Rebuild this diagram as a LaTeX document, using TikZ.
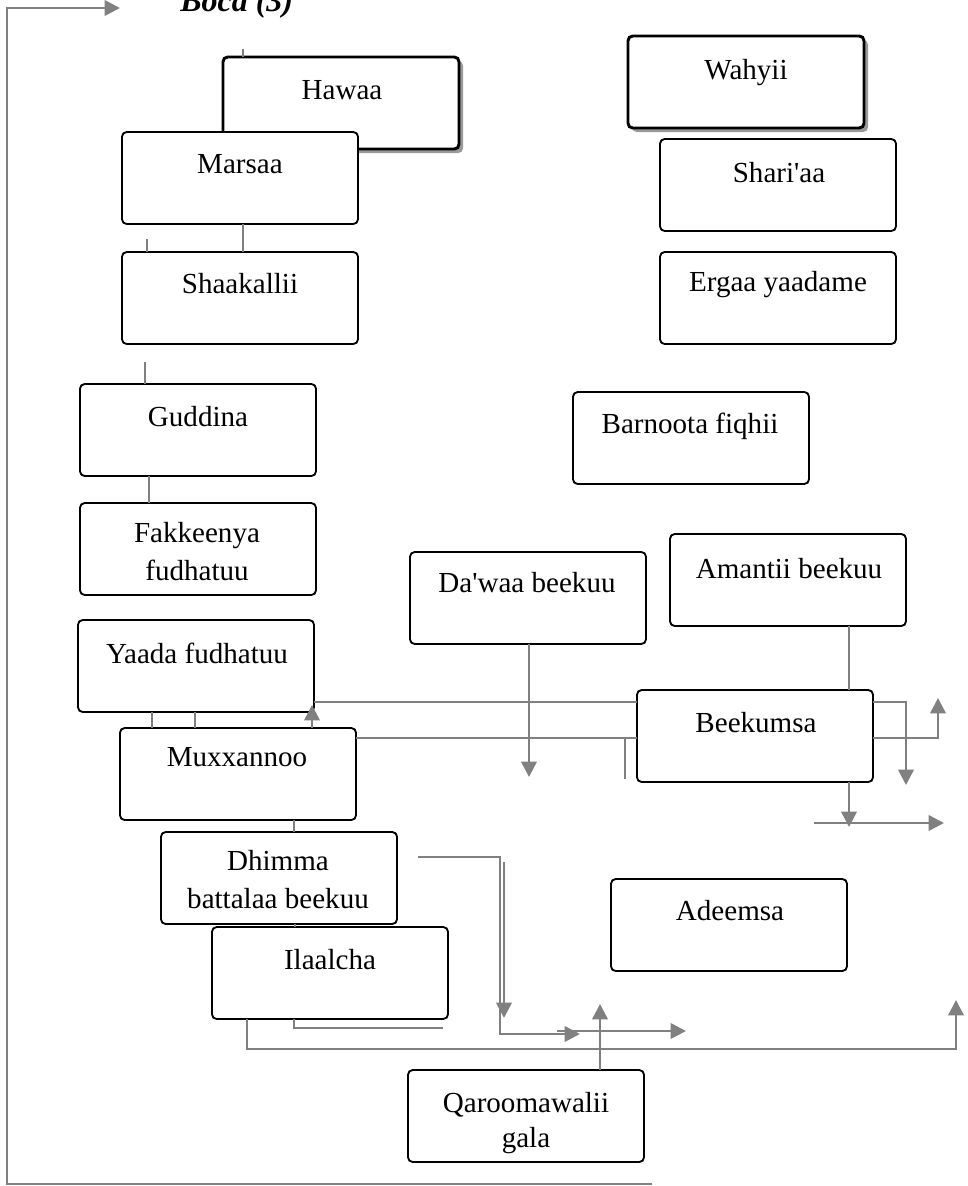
\documentclass[tikz,border=0pt]{standalone}
\usepackage{fontspec}
\setmainfont{Liberation Serif}
\usetikzlibrary{arrows.meta,shadows}
\definecolor{lg}{HTML}{808080}
\tikzset{
 box/.style={draw=black,line width=1.4pt,rounded corners=3.5pt,fill=white,minimum width=177pt,minimum height=69pt,anchor=north west,inner sep=0pt,outer sep=0pt},
 boxb/.style={box,line width=2.2pt,drop shadow={shadow xshift=3pt,shadow yshift=-3pt,fill=black!40,opacity=1}},
 txt/.style={anchor=base,inner sep=0pt,font=\fontsize{21.8}{26}\selectfont},
 conn/.style={draw=lg,line width=1.9pt},
 arr/.style={conn,-{Triangle[length=11.5pt,width=11.5pt]}},
}
\begin{document}
\begin{tikzpicture}[x=0.75pt,y=-0.75pt]
\useasboundingbox (0,0) rectangle (968,1186);
\node[anchor=base west,inner sep=0pt,font=\fontsize{24}{28}\selectfont\bfseries\itshape] (title) at (180,11) {Boca (3)};
% boxes
\node[boxb] (hawaa) at (223,57) {};
\node[box] (marsaa) at (122,132) {};
\node[box] (shaak) at (122,252) {};
\node[box] (gudd) at (80,384) {};
\node[box] (fakk) at (80,503) {};
\node[box] (yaada) at (78,620) {};
\node[box] (muxx) at (120,728) {};
\node[box] (dhimma) at (161,832) {};
\node[box] (ilaal) at (212,927) {};
\node[box] (qaro) at (408,1070) {};
\node[boxb] (wahyii) at (628,36) {};
\node[box] (shari) at (660,139) {};
\node[box] (ergaa) at (660,252) {};
\node[box] (barn) at (573,392) {};
\node[box] (dawaa) at (410,552) {};
\node[box] (amant) at (670,534) {};
\node[box] (beek) at (637,690) {};
\node[box] (adeem) at (611,879) {};
% texts
\node[txt] (hawaaT) at (342,99) {Hawaa};
\node[txt] (marsaaT) at (240,173) {Marsaa};
\node[txt] (shaakT) at (240,293) {Shaakallii};
\node[txt] (guddT) at (198,426) {Guddina};
\node[txt] (fakkT1) at (197,542) {Fakkeenya};
\node[txt] (fakkT2) at (197,580) {fudhatuu};
\node[txt] (yaadaT) at (197,663) {Yaada fudhatuu};
\node[txt] (muxxT) at (237,766) {Muxxannoo};
\node[txt] (dhimmaT1) at (278,870) {Dhimma};
\node[txt] (dhimmaT2) at (278,908) {battalaa beekuu};
\node[txt] (ilaalT) at (330,969) {Ilaalcha};
\node[txt] (qaroT1) at (526,1112) {Qaroomawalii};
\node[txt] (qaroT2) at (526,1147) {gala};
\node[txt] (wahyiiT) at (746,79) {Wahyii};
\node[txt] (shariT) at (779,182) {Shari\textquotesingle aa};
\node[txt] (ergaaT) at (778,291) {Ergaa yaadame};
\node[txt] (barnT) at (690,433) {Barnoota fiqhii};
\node[txt] (dawaaT) at (527,592) {Da\textquotesingle waa beekuu};
\node[txt] (amantT) at (789,578) {Amantii beekuu};
\node[txt] (beekT) at (756,732) {Beekumsa};
\node[txt] (adeemT) at (730,920) {Adeemsa};
% connectors
\coordinate (loopA) at (652,1184);
\coordinate (loopB) at (7,1184);
\coordinate (loopC) at (7,8);
\coordinate (loopD) at (120,8);
\draw[arr] (loopA) -- (loopB) -- (loopC) -- (loopD);
\coordinate (hst) at (243,49);
\draw[conn] (hst) -- (hst |- hawaa.north);
\draw[conn] (marsaa.south -| hst) -- (shaak.north -| hst);
\coordinate (sst) at (147,239);
\draw[conn] (sst) -- (sst |- shaak.north);
\coordinate (gst) at (145,362);
\draw[conn] (gst) -- (gst |- gudd.north);
\draw[conn] (gudd.south -| 149,0) -- (fakk.north -| 149,0);
\draw[conn] (yaada.south -| 152,0) -- (muxx.north -| 152,0);
\draw[conn] (yaada.south -| 195,0) -- (muxx.north -| 195,0);
\coordinate (upT) at (312,705);
\draw[arr] (muxx.north -| upT) -- (upT);
\draw[conn] (yaada.east |- 0,702) -- (beek.west |- 0,702);
\coordinate (bR1) at (906,702);
\coordinate (bR1e) at (906,785);
\draw[arr] (beek.east |- bR1) -- (bR1) -- (bR1e);
\draw[conn] (muxx.east |- 0,738) -- (beek.west |- 0,738);
\coordinate (bR2) at (938,738);
\coordinate (bR2e) at (938,698);
\draw[arr] (beek.east |- bR2) -- (bR2) -- (bR2e);
\coordinate (stA) at (625,738);
\coordinate (stB) at (625,779);
\draw[conn] (stA) -- (stB);
\coordinate (dwE) at (529,777);
\draw[arr] (dawaa.south -| dwE) -- (dwE);
\draw[conn] (amant.south -| 849,0) -- (beek.north -| 849,0);
\coordinate (bbE) at (849,827);
\draw[arr] (beek.south -| bbE) -- (bbE);
\coordinate (hA) at (814,823);
\coordinate (hB) at (944,823);
\draw[arr] (hA) -- (hB);
\draw[conn] (muxx.south -| 294,0) -- (dhimma.north -| 294,0);
\draw[conn] (dhimma.south -| 295,0) -- (ilaal.north -| 295,0);
\coordinate (dA) at (418,857);
\coordinate (dB) at (500,857);
\coordinate (dC) at (500,1034);
\coordinate (dD) at (580,1034);
\draw[arr] (dA) -- (dB) -- (dC) -- (dD);
\coordinate (eA) at (504,862);
\coordinate (eB) at (504,1018);
\draw[arr] (eA) -- (eB);
\coordinate (fA) at (557,1031);
\coordinate (fB) at (686,1031);
\draw[arr] (fA) -- (fB);
\coordinate (qE) at (600,1004);
\draw[arr] (qaro.north -| qE) -- (qE);
\coordinate (iA) at (294,1028);
\coordinate (iB) at (443,1028);
\draw[conn] (ilaal.south -| iA) -- (iA) -- (iB);
\coordinate (jA) at (247,1049);
\coordinate (jB) at (956,1049);
\coordinate (jC) at (956,1000);
\draw[arr] (ilaal.south -| jA) -- (jA) -- (jB) -- (jC);
\end{tikzpicture}
\end{document}
